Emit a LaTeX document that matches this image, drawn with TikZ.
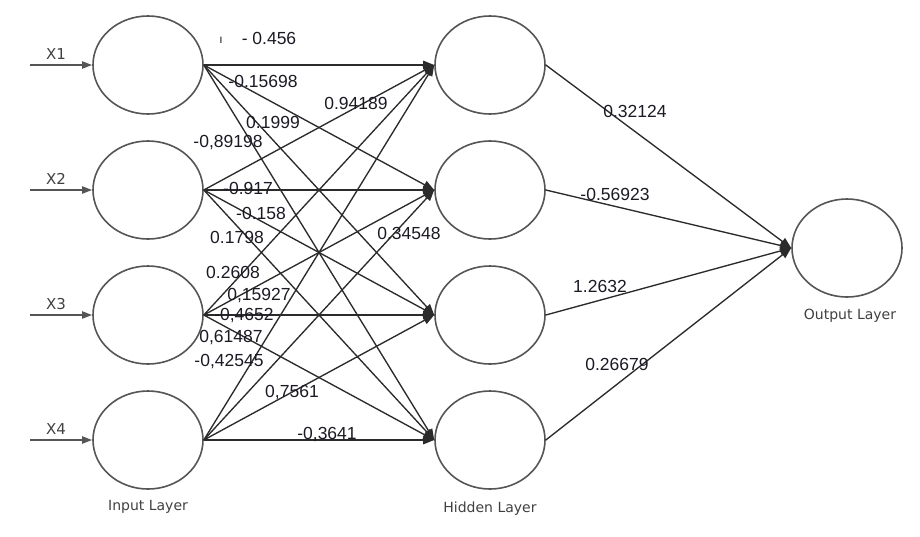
\documentclass[tikz,border=0pt]{standalone}
\usepackage{fontspec}
\setmainfont{Liberation Sans}
\newfontfamily\labfont{DejaVu Sans}
\usetikzlibrary{shapes.geometric,arrows.meta}
\definecolor{circ}{HTML}{555555}
\definecolor{edgec}{HTML}{2B2B2B}
\definecolor{wtxt}{HTML}{1A1A24}
\definecolor{ltxt}{HTML}{404040}
\begin{document}
\begin{tikzpicture}[x=1pt,y=-1pt,
 neuron/.style={ellipse,draw=circ,line width=1.6pt,minimum width=110pt,minimum height=98pt,inner sep=0pt},
 conn/.style={draw=edgec,line width=1.35pt,-{Triangle[length=11pt,width=8.5pt]}},
 wt/.style={font=\fontsize{17.5}{17.5}\selectfont,text=wtxt,inner sep=0pt},
 lab/.style={font=\labfont\fontsize{14}{14}\selectfont,text=ltxt,inner sep=0pt},
 inarrow/.style={draw=circ,line width=1.9pt,-{Triangle[length=10pt,width=7pt]}}]
\useasboundingbox (0,0) rectangle (920,536);
% input layer
\node[neuron] (i1) at (148,65) {};
\node[neuron] (i2) at (148,190) {};
\node[neuron] (i3) at (148,315) {};
\node[neuron] (i4) at (148,440) {};
% hidden layer
\node[neuron] (h1) at (490,65) {};
\node[neuron] (h2) at (490,190) {};
\node[neuron] (h3) at (490,315) {};
\node[neuron] (h4) at (490,440) {};
% output
\node[neuron] (o) at (847,248) {};
% input arrows
\foreach \k/\yy in {1/65,2/190,3/315,4/440}{
  \coordinate (s\k) at (30,\yy);
  \draw[inarrow] (s\k) -- (i\k.west);
  \node[lab,font=\labfont\fontsize{15}{15}\selectfont] (x\k) at (56,\yy-11) {X\k};
}
% connections
\foreach \a in {1,...,4}{
  \foreach \b in {1,...,4}{
    \draw[conn] (i\a.east) -- (h\b.west);
  }
}
\foreach \b in {1,...,4}{
  \draw[conn] (h\b.east) -- (o.west);
}
% layer labels
\node[lab] (li) at (148,507) {Input Layer};
\node[lab] (lh) at (490,509) {Hidden Layer};
\node[lab] (lo) at (850,316) {Output Layer};
% weights
\node[wt,font=\fontsize{12}{12}\selectfont] (wtick) at (221,40) {ı};
\node[wt] (w1) at (269,38) {- 0.456};
\node[wt] (w2) at (263,81) {-0.15698};
\node[wt] (w3) at (356,103) {0.94189};
\node[wt] (w4) at (273,122) {0.1999};
\node[wt] (w5) at (228,143) {-0,89198};
\node[wt] (w6) at (248,188) {-0.917};
\node[wt] (w7) at (261,213) {-0.158};
\node[wt] (w8) at (409,233) {0.34548};
\node[wt] (w9) at (237,237) {0.1798};
\node[wt] (w10) at (233,272) {0.2608};
\node[wt] (w11) at (259,296) {0,15927};
\node[wt] (w12) at (244,316) {-0,4652};
\node[wt] (w13) at (231,338) {0,61487};
\node[wt] (w14) at (229,362) {-0,42545};
\node[wt] (w15) at (292,393) {0,7561};
\node[wt] (w16) at (327,435) {-0,3641};
\node[wt] (w17) at (635,111) {0.32124};
\node[wt] (w18) at (615,194) {-0.56923};
\node[wt] (w19) at (600,286) {1.2632};
\node[wt] (w20) at (617,364) {0.26679};
\end{tikzpicture}
\end{document}
